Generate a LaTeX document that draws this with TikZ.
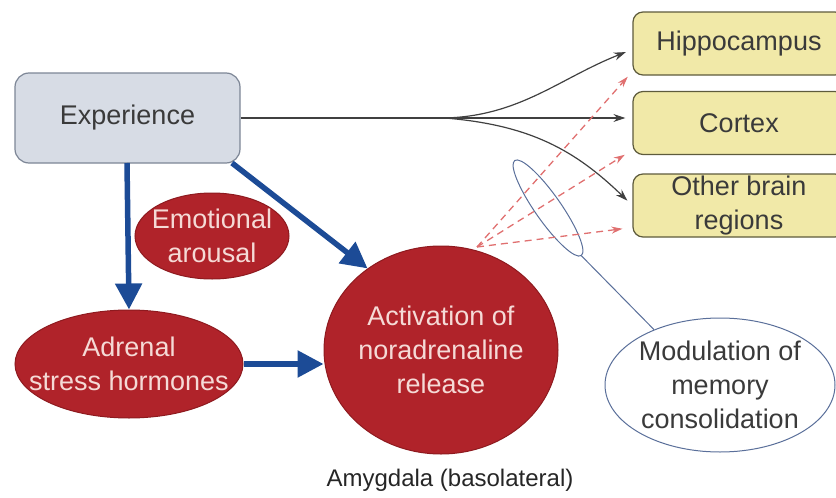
\documentclass[tikz,border=0pt]{standalone}
\usepackage{fontspec}
\setmainfont{Liberation Sans}
\usetikzlibrary{shapes.geometric,arrows.meta}
\definecolor{bluearr}{HTML}{1C4B96}
\definecolor{expfill}{HTML}{D7DCE5}
\definecolor{expdraw}{HTML}{7D8696}
\definecolor{yelfill}{HTML}{F1E9A8}
\definecolor{yeldraw}{HTML}{5E5B3C}
\definecolor{redfill}{HTML}{B0232A}
\definecolor{reddraw}{HTML}{8E1A1F}
\definecolor{redtext}{HTML}{F5DAD6}
\definecolor{darktext}{HTML}{3A3A3A}
\definecolor{dashred}{HTML}{E07070}
\definecolor{loopblue}{HTML}{5A6F9A}
\begin{document}
\begin{tikzpicture}[x=1pt,y=-1pt,
  txt/.style={font=\fontsize{27}{34}\selectfont, align=center, inner sep=0pt},
  expbox/.style={txt, draw=expdraw, fill=expfill, line width=1.2pt, rounded corners=14pt, text=darktext},
  regbox/.style={txt, draw=yeldraw, fill=yelfill, line width=1.2pt, rounded corners=10pt, text=darktext, minimum width=212pt, minimum height=63pt},
  redell/.style={ellipse, draw=reddraw, fill=redfill, line width=1pt, inner sep=0pt},
  redlbl/.style={txt, text=redtext},
  modell/.style={ellipse, draw=loopblue, fill=white, line width=1pt, inner sep=0pt},
  modlbl/.style={txt, text=darktext},
  bluearrow/.style={draw=bluearr, line width=5.5pt, -{Triangle[length=26pt,width=26pt]}},
  thinarrow/.style={draw=black!75, line width=1.2pt, -{Stealth[length=12pt,width=8pt]}},
  redarrow/.style={draw=dashred, line width=1.3pt, dash pattern=on 7pt off 5pt, -{Stealth[length=11pt,width=7pt]}}
]
\useasboundingbox (0,0) rectangle (836,498);

% boxes
\node[expbox, minimum width=225pt, minimum height=90pt] (exp) at (127.5,118) {Experience};
\node[regbox] (hip) at (739,43.5) {Hippocampus};
\node[regbox] (cor) at (739,123) {Cortex};
\node[regbox] (oth) at (739,205.5) {Other brain\\regions};

% red ellipses
\node[redell, minimum width=154pt, minimum height=86pt, label={[redlbl]center:Emotional\\arousal}] (emo) at (212,236) {};
\node[redell, minimum width=228pt, minimum height=108pt, label={[redlbl]center:Adrenal\\stress hormones}] (adr) at (129,364) {};
\node[redell, minimum width=234pt, minimum height=208pt, label={[redlbl]center:Activation of\\noradrenaline\\release}] (act) at (441,350) {};

% modulation
\node[modell, minimum width=230pt, minimum height=134pt, label={[modlbl]center:Modulation of\\memory\\consolidation}] (mod) at (720,385) {};
\node[draw=loopblue, line width=1pt, ellipse, minimum width=116pt, minimum height=26pt, inner sep=0pt, rotate=-55] (loop) at (548,208) {};

\node[txt, text=black!85, font=\fontsize{24}{28}\selectfont] (amy) at (450,480) {Amygdala (basolateral)};

% blue arrows
\coordinate (e1) at (127,163);
\coordinate (e2) at (232,163);
\draw[bluearrow] (e1) -- (adr.north);
\draw[bluearrow] (e2) -- (act.132);
\draw[bluearrow] (adr.east) -- (adr.east -| act.west);

% thin black branching arrows
\coordinate (br) at (445,118);
\draw[draw=black!75, line width=1.2pt] (exp.east) -- (br);
\draw[thinarrow, shorten >=7pt] (br) .. controls (520,116) and (560,78) .. ([yshift=-6pt]hip.west);
\draw[thinarrow, shorten >=7pt] (br) -- ([yshift=5pt]cor.west);
\draw[thinarrow, shorten >=7pt] (br) .. controls (530,125) and (575,150) .. (oth.west);

% red dashed arrows
\coordinate (ds) at (477,247);
\draw[redarrow, shorten >=7pt] (ds) -- ([yshift=-28pt]hip.west);
\draw[redarrow, shorten >=9pt] (ds) -- ([yshift=-27pt]cor.west);
\draw[redarrow, shorten >=10pt] (ds) -- ([yshift=-22pt]oth.west);

% connector loop to modulation
\draw[draw=loopblue, line width=1pt] (loop.east) -- (mod.140);
\end{tikzpicture}
\end{document}
